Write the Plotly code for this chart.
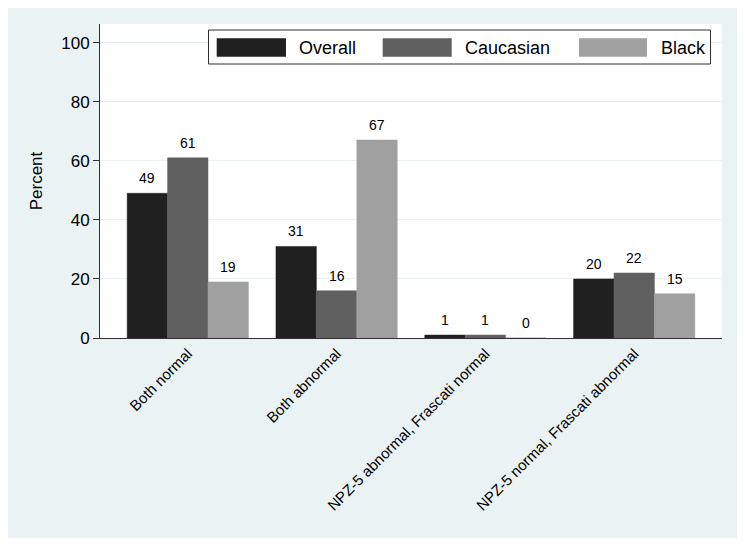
import plotly.graph_objects as go

categories = ["Both normal", "Both abnormal", "NPZ-5 abnormal, Frascati normal",
              "NPZ-5 normal, Frascati abnormal"]
series_names = ["Overall", "Caucasian", "Black"]
overall = [49, 31, 1, 20]
caucasian = [61, 16, 1, 22]
black = [19, 67, 0, 15]
y_ticks = [0, 20, 40, 60, 80, 100]

colors = ["#202020", "#606060", "#a0a0a0"]
BG = "#eaf2f3"
FONT = "Liberation Sans, Arial, sans-serif"

# page offset of the figure (default body margin)
OFF = 8
W, H = 745 - OFF, 544 - OFF
PX0, PX1, PY0, PY1 = 100, 722, 24, 338
L, T = PX0 - OFF, PY0 - OFF
R = W - (PX1 - OFF)
B = H - (PY1 - OFF)
PW, PH = PX1 - PX0, PY1 - PY0

BARGAP = 0.185
BW = (1 - BARGAP) / 3


def px(x):
    return (x - PX0) / PW


def py(y):
    return (PY1 - y) / PH


fig = go.Figure()
series = [overall, caucasian, black]
for name, vals, col in zip(series_names, series, colors):
    fig.add_trace(go.Bar(
        x=categories, y=vals, name=name,
        marker=dict(color=col, line=dict(color=col, width=0.5)),
        showlegend=False,
    ))

annotations = []
for k, vals in enumerate(series):
    for i, v in enumerate(vals):
        annotations.append(dict(xref="x", yref="y", x=i + (k - 1) * BW, y=v, text=str(v),
                                showarrow=False, yanchor="bottom", xanchor="center", yshift=5,
                                font=dict(size=14, color="#000000", family=FONT)))

shapes = [
    dict(type="rect", xref="paper", yref="paper", x0=px(7), x1=px(740), y0=py(538), y1=py(5),
         fillcolor=BG, line=dict(width=0), layer="below"),
    dict(type="rect", xref="paper", yref="paper", x0=0, x1=1, y0=0, y1=1,
         fillcolor="#ffffff", line=dict(width=0), layer="below"),
    dict(type="rect", xref="paper", yref="paper", x0=px(208.5), x1=px(710.5), y0=py(64), y1=py(30),
         fillcolor="#ffffff", line=dict(color="#303030", width=1), layer="above"),
]
sw = [(216.7, 286), (382.7, 451.7), (579, 647)]
tx = [297, 463, 659]
for (a, b), t, name, col in zip(sw, tx, series_names, colors):
    shapes.append(dict(type="rect", xref="paper", yref="paper", x0=px(a), x1=px(b),
                       y0=py(56.7), y1=py(38.3), fillcolor=col, line=dict(width=0), layer="above"))
    annotations.append(dict(xref="paper", yref="paper", x=px(t), y=py(47.5), text=name,
                            showarrow=False, xanchor="left", yanchor="middle",
                            font=dict(size=18, color="#000000", family=FONT)))

fig.update_layout(
    width=W, height=H,
    margin=dict(l=L, r=R, t=T, b=B, pad=0),
    paper_bgcolor="#ffffff", plot_bgcolor="rgba(0,0,0,0)",
    barmode="group", bargap=BARGAP, bargroupgap=0,
    font=dict(family=FONT, color="#000000"),
    shapes=shapes, annotations=annotations,
    showlegend=False,
)
fig.update_xaxes(
    range=[-0.59, 3.59], tickangle=-45, showgrid=False, ticks="",
    showline=True, linecolor="#303030", linewidth=1,
    tickfont=dict(size=15, family=FONT, color="#000000"), zeroline=False,
)
fig.update_yaxes(
    range=[0, 106.3], tickvals=y_ticks, ticktext=[str(v) for v in y_ticks],
    showgrid=True, gridcolor=BG, gridwidth=1, zeroline=False,
    showline=True, linecolor="#303030", linewidth=1,
    ticks="outside", ticklen=6, tickcolor="#303030",
    tickfont=dict(size=17, family=FONT, color="#000000"),
    title=dict(text="Percent", font=dict(size=17, family=FONT, color="#000000"), standoff=14),
)

fig.write_html("out.html")
